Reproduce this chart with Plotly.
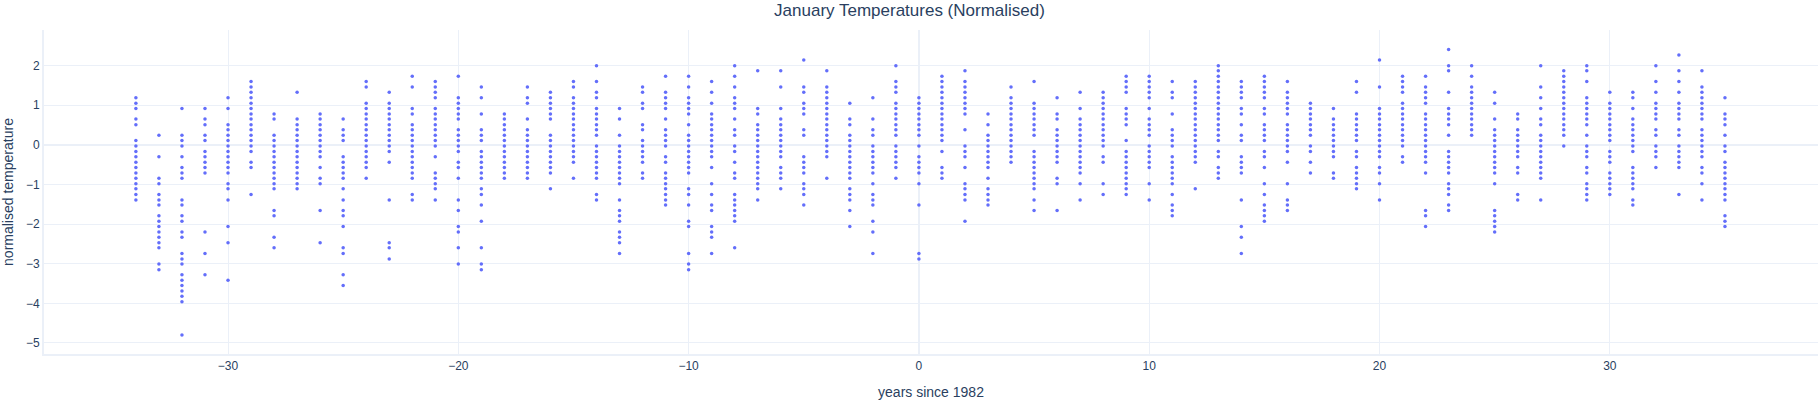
import plotly.graph_objects as go

# years since 1982, one column of January readings per year
years = list(range(-34, 36))

# normalised daily January temperatures (one list per year)
temps_by_year = [
    [1.19, 1.05, 0.92, 0.65, 0.51, 0.11, -0.03, -0.17, -0.30, -0.44, -0.57, -0.71, -0.84, -0.98, -1.11, -1.25, -1.39],  # -34
    [0.24, -0.30, -0.84, -0.98, -1.25, -1.39, -1.52, -1.79, -1.93, -2.06, -2.20, -2.33, -2.47, -2.60, -3.01, -3.15],  # -33
    [0.92, 0.24, 0.11, -0.03, -0.30, -0.57, -0.71, -0.84, -1.39, -1.52, -1.79, -1.93, -2.20, -2.33, -2.74, -2.88,
     -3.01, -3.28, -3.42, -3.55, -3.69, -3.82, -3.96, -4.80],  # -32
    [0.92, 0.65, 0.51, 0.24, 0.11, -0.17, -0.30, -0.44, -0.57, -0.71, -2.20, -2.74, -3.28],  # -31
    [1.19, 0.92, 0.51, 0.38, 0.24, 0.11, -0.03, -0.17, -0.30, -0.44, -0.57, -0.71, -0.98, -1.11, -1.39, -2.06, -2.47, -3.42],  # -30
    [1.60, 1.46, 1.33, 1.19, 1.05, 0.92, 0.78, 0.65, 0.51, 0.38, 0.24, 0.11, -0.03, -0.17, -0.44, -0.57, -1.25],  # -29
    [0.78, 0.65, 0.24, 0.11, -0.03, -0.17, -0.30, -0.44, -0.57, -0.71, -0.84, -0.98, -1.11, -1.66, -1.79, -2.33, -2.60],  # -28
    [1.33, 0.65, 0.51, 0.38, 0.24, 0.11, -0.03, -0.17, -0.30, -0.44, -0.57, -0.71, -0.84, -0.98, -1.11],  # -27
    [0.78, 0.65, 0.51, 0.38, 0.24, 0.11, -0.03, -0.17, -0.30, -0.57, -0.84, -0.98, -1.66, -2.47],  # -26
    [0.65, 0.38, 0.24, 0.11, -0.30, -0.44, -0.57, -0.71, -0.84, -1.11, -1.39, -1.66, -1.79, -2.06, -2.60, -2.74, -3.28, -3.55],  # -25
    [1.60, 1.46, 1.05, 0.92, 0.78, 0.65, 0.51, 0.38, 0.24, 0.11, -0.03, -0.17, -0.30, -0.44, -0.57, -0.84],  # -24
    [1.33, 1.05, 0.92, 0.78, 0.65, 0.51, 0.38, 0.24, 0.11, -0.03, -0.17, -0.44, -1.39, -2.47, -2.60, -2.88],  # -23
    [1.73, 1.46, 0.92, 0.78, 0.51, 0.38, 0.24, 0.11, -0.03, -0.17, -0.30, -0.44, -0.57, -0.71, -0.84, -1.25, -1.39],  # -22
    [1.60, 1.46, 1.33, 1.19, 0.92, 0.78, 0.65, 0.51, 0.38, 0.24, 0.11, -0.03, -0.30, -0.71, -0.84, -0.98, -1.11, -1.39],  # -21
    [1.73, 1.19, 1.05, 0.92, 0.78, 0.65, 0.38, 0.24, 0.11, -0.03, -0.17, -0.44, -0.57, -0.84, -1.39, -1.66, -2.06, -2.20,
     -2.60, -3.01],  # -20
    [1.46, 1.19, 0.78, 0.38, 0.24, 0.11, -0.17, -0.30, -0.44, -0.57, -0.71, -0.84, -1.11, -1.25, -1.52, -1.93, -2.60,
     -3.01, -3.15],  # -19
    [0.78, 0.65, 0.51, 0.38, 0.24, 0.11, -0.03, -0.17, -0.30, -0.44, -0.57, -0.71, -0.84],  # -18
    [1.46, 1.19, 1.05, 0.65, 0.38, 0.24, 0.11, -0.03, -0.17, -0.30, -0.44, -0.57, -0.71, -0.84],  # -17
    [1.33, 1.19, 1.05, 0.92, 0.78, 0.65, 0.24, 0.11, -0.03, -0.17, -0.30, -0.44, -0.57, -0.71, -1.11],  # -16
    [1.60, 1.46, 1.19, 1.05, 0.92, 0.78, 0.65, 0.51, 0.38, 0.24, 0.11, -0.03, -0.17, -0.30, -0.44, -0.84],  # -15
    [2.00, 1.60, 1.33, 1.19, 0.92, 0.78, 0.65, 0.51, 0.38, 0.24, -0.03, -0.17, -0.30, -0.44, -0.57, -0.71, -0.84,
     -1.25, -1.39],  # -14
    [0.92, 0.65, 0.24, -0.03, -0.17, -0.30, -0.44, -0.57, -0.71, -0.84, -0.98, -1.39, -1.66, -1.79, -1.93, -2.20,
     -2.33, -2.47, -2.74],  # -13
    [1.46, 1.33, 1.05, 0.92, 0.51, 0.38, 0.11, -0.03, -0.17, -0.30, -0.44, -0.71, -0.84],  # -12
    [1.73, 1.33, 1.19, 1.05, 0.92, 0.65, 0.38, 0.24, 0.11, -0.03, -0.30, -0.44, -0.71, -0.84, -0.98, -1.11, -1.25,
     -1.39, -1.52],  # -11
    [1.73, 1.46, 1.19, 1.05, 0.92, 0.78, 0.51, 0.24, 0.11, -0.03, -0.17, -0.30, -0.44, -0.57, -0.71, -1.11, -1.25,
     -1.52, -1.93, -2.06, -2.74, -3.01, -3.15],  # -10
    [1.60, 1.33, 1.05, 0.78, 0.65, 0.51, 0.38, 0.24, 0.11, -0.03, -0.17, -0.30, -0.57, -0.98, -1.25, -1.52, -1.66,
     -2.06, -2.20, -2.33, -2.74],  # -9
    [2.00, 1.73, 1.46, 1.19, 1.05, 0.92, 0.65, 0.38, 0.24, -0.03, -0.17, -0.44, -0.71, -0.84, -1.25, -1.39, -1.52,
     -1.66, -1.79, -1.93, -2.60],  # -8
    [1.87, 0.92, 0.78, 0.51, 0.38, 0.24, 0.11, -0.03, -0.17, -0.30, -0.44, -0.57, -0.71, -0.84, -0.98, -1.11, -1.39],  # -7
    [1.87, 1.46, 0.92, 0.65, 0.51, 0.38, 0.24, 0.11, -0.03, -0.17, -0.30, -0.57, -0.71, -0.84, -1.11],  # -6
    [2.14, 1.46, 1.33, 1.05, 0.92, 0.78, 0.38, 0.24, -0.30, -0.44, -0.57, -0.71, -0.98, -1.11, -1.25, -1.52],  # -5
    [1.87, 1.46, 1.33, 1.19, 1.05, 0.92, 0.78, 0.65, 0.51, 0.38, 0.24, 0.11, -0.03, -0.17, -0.30, -0.84],  # -4
    [1.05, 0.65, 0.51, 0.24, 0.11, -0.03, -0.17, -0.30, -0.44, -0.57, -0.71, -0.84, -1.11, -1.25, -1.39, -1.66, -2.06],  # -3
    [1.19, 0.65, 0.38, 0.24, -0.03, -0.17, -0.30, -0.44, -0.57, -0.71, -0.98, -1.25, -1.39, -1.52, -1.93, -2.20, -2.74],  # -2
    [2.00, 1.60, 1.46, 1.33, 1.05, 0.92, 0.78, 0.65, 0.51, 0.38, 0.24, -0.03, -0.17, -0.30, -0.44, -0.57, -0.84],  # -1
    [1.19, 1.05, 0.92, 0.78, 0.65, 0.51, 0.38, 0.24, -0.03, -0.30, -0.44, -0.57, -0.71, -0.98, -1.52, -2.74, -2.88],  # 0
    [1.73, 1.60, 1.46, 1.33, 1.19, 1.05, 0.92, 0.78, 0.65, 0.51, 0.38, 0.24, 0.11, -0.17, -0.57, -0.71, -0.84],  # 1
    [1.87, 1.60, 1.46, 1.33, 1.19, 1.05, 0.92, 0.78, 0.38, -0.03, -0.17, -0.30, -0.57, -0.98, -1.11, -1.25, -1.39, -1.93],  # 2
    [0.78, 0.51, 0.24, 0.11, -0.03, -0.17, -0.30, -0.44, -0.57, -0.84, -1.11, -1.25, -1.39, -1.52],  # 3
    [1.46, 1.19, 1.05, 0.92, 0.78, 0.65, 0.51, 0.38, 0.24, 0.11, -0.03, -0.17, -0.30, -0.44],  # 4
    [1.60, 1.05, 0.92, 0.78, 0.65, 0.51, 0.38, 0.24, -0.17, -0.30, -0.44, -0.57, -0.71, -0.84, -0.98, -1.11, -1.39, -1.66],  # 5
    [1.19, 0.78, 0.65, 0.38, 0.24, 0.11, -0.03, -0.17, -0.30, -0.44, -0.84, -0.98, -1.66],  # 6
    [1.33, 0.92, 0.65, 0.51, 0.38, 0.24, 0.11, -0.03, -0.17, -0.30, -0.44, -0.57, -0.71, -0.98, -1.39],  # 7
    [1.33, 1.19, 1.05, 0.92, 0.78, 0.65, 0.51, 0.38, 0.24, 0.11, -0.03, -0.30, -0.44, -0.98, -1.25],  # 8
    [1.73, 1.60, 1.46, 1.33, 0.92, 0.78, 0.65, 0.51, 0.11, -0.17, -0.30, -0.44, -0.57, -0.71, -0.84, -0.98, -1.11, -1.25],  # 9
    [1.73, 1.60, 1.46, 1.33, 1.19, 0.92, 0.65, 0.51, 0.38, 0.24, -0.03, -0.17, -0.30, -0.44, -0.57, -0.98, -1.39],  # 10
    [1.60, 1.33, 1.19, 0.78, 0.38, 0.24, 0.11, -0.03, -0.30, -0.44, -0.57, -0.71, -0.84, -0.98, -1.25, -1.52, -1.66, -1.79],  # 11
    [1.60, 1.46, 1.33, 1.19, 1.05, 0.92, 0.78, 0.65, 0.51, 0.38, 0.24, 0.11, -0.03, -0.17, -0.30, -0.44, -1.11],  # 12
    [2.00, 1.87, 1.73, 1.60, 1.46, 1.33, 1.19, 1.05, 0.92, 0.78, 0.65, 0.51, 0.38, 0.24, 0.11, -0.17, -0.30, -0.57,
     -0.71, -0.84],  # 13
    [1.60, 1.46, 1.33, 1.19, 0.92, 0.78, 0.51, 0.24, 0.11, -0.30, -0.44, -0.57, -0.71, -1.39, -2.06, -2.33, -2.74],  # 14
    [1.73, 1.60, 1.46, 1.33, 1.19, 0.92, 0.78, 0.51, 0.38, 0.24, 0.11, -0.17, -0.30, -0.57, -0.98, -1.25, -1.52,
     -1.66, -1.79, -1.93],  # 15
    [1.60, 1.33, 1.19, 1.05, 0.92, 0.78, 0.51, 0.38, 0.24, 0.11, -0.03, -0.17, -0.44, -0.98, -1.39, -1.52, -1.66],  # 16
    [1.05, 0.92, 0.78, 0.65, 0.51, 0.38, 0.24, -0.03, -0.17, -0.44, -0.71],  # 17
    [0.92, 0.65, 0.51, 0.38, 0.24, 0.11, -0.03, -0.17, -0.30, -0.71, -0.84],  # 18
    [1.60, 1.33, 0.78, 0.65, 0.51, 0.38, 0.24, 0.11, -0.17, -0.30, -0.57, -0.71, -0.84, -0.98, -1.11],  # 19
    [2.14, 1.46, 0.92, 0.78, 0.65, 0.51, 0.38, 0.24, 0.11, -0.03, -0.17, -0.30, -0.57, -0.71, -0.98, -1.39],  # 20
    [1.73, 1.60, 1.46, 1.33, 1.05, 0.92, 0.78, 0.65, 0.51, 0.38, 0.24, 0.11, -0.03, -0.30, -0.44],  # 21
    [1.73, 1.46, 1.33, 1.19, 1.05, 0.78, 0.65, 0.51, 0.38, 0.24, 0.11, -0.03, -0.17, -0.30, -0.44, -0.71, -1.66,
     -1.79, -2.06],  # 22
    [2.41, 2.00, 1.87, 1.33, 0.92, 0.78, 0.65, 0.51, 0.24, -0.17, -0.30, -0.44, -0.57, -0.71, -0.98, -1.11, -1.25,
     -1.52, -1.66],  # 23
    [2.00, 1.73, 1.46, 1.33, 1.19, 1.05, 0.92, 0.78, 0.65, 0.51, 0.38, 0.24],  # 24
    [1.33, 1.05, 0.65, 0.38, 0.24, 0.11, -0.03, -0.17, -0.30, -0.44, -0.57, -0.71, -0.98, -1.66, -1.79, -1.93, -2.06, -2.20],  # 25
    [0.78, 0.65, 0.38, 0.24, 0.11, -0.03, -0.17, -0.30, -0.57, -0.71, -1.25, -1.39],  # 26
    [2.00, 1.46, 1.19, 0.92, 0.65, 0.51, 0.24, 0.11, -0.03, -0.17, -0.30, -0.44, -0.57, -0.71, -0.84, -1.39],  # 27
    [1.87, 1.73, 1.60, 1.46, 1.33, 1.19, 1.05, 0.92, 0.78, 0.65, 0.51, 0.38, 0.24, -0.03],  # 28
    [2.00, 1.87, 1.60, 1.19, 1.05, 0.92, 0.78, 0.65, 0.51, 0.24, -0.03, -0.17, -0.30, -0.57, -0.71, -0.98, -1.11,
     -1.25, -1.39],  # 29
    [1.33, 1.05, 0.92, 0.78, 0.65, 0.51, 0.38, 0.24, 0.11, -0.17, -0.30, -0.44, -0.71, -0.84, -0.98, -1.11, -1.25],  # 30
    [1.33, 1.19, 0.92, 0.65, 0.51, 0.38, 0.24, 0.11, -0.03, -0.17, -0.57, -0.71, -0.84, -0.98, -1.11, -1.39, -1.52],  # 31
    [2.00, 1.60, 1.33, 1.05, 0.92, 0.78, 0.65, 0.38, 0.24, -0.03, -0.17, -0.30, -0.57],  # 32
    [2.27, 1.87, 1.60, 1.33, 1.05, 0.92, 0.78, 0.65, 0.38, 0.24, -0.03, -0.17, -0.30, -0.44, -0.57, -1.25],  # 33
    [1.87, 1.46, 1.33, 1.19, 1.05, 0.92, 0.78, 0.65, 0.38, 0.24, 0.11, -0.03, -0.17, -0.30, -0.57, -0.71, -0.98, -1.39],  # 34
    [1.19, 0.78, 0.65, 0.51, 0.24, -0.03, -0.17, -0.44, -0.57, -0.71, -0.84, -0.98, -1.11, -1.25, -1.39, -1.79,
     -1.93, -2.06],  # 35
]

x = []
y = []
for yr, temps in zip(years, temps_by_year):
    for t in temps:
        x.append(yr)
        y.append(t)

fig = go.Figure(data=[go.Scatter(x=x, y=y, mode="markers",
                                 marker=dict(color="#636efa", size=3.5))])

fig.update_layout(template="plotly_white",
                  width=1819, height=400,
                  margin=dict(l=44, r=1, t=30, b=46),
                  font=dict(family="Liberation Sans, Arial, sans-serif", color="#2a3f5f"),
                  title=dict(text="January Temperatures (Normalised)", x=0.5, xanchor="center",
                             y=0.975, yanchor="middle", font_size=17),
                  showlegend=False)

fig.update_xaxes(title_text="years since 1982", range=[-37.99, 39.04], dtick=10,
                 showline=True, linewidth=2, linecolor="#EBF0F8", automargin=False)
fig.update_yaxes(title_text="normalised temperature", range=[-5.28, 2.90], dtick=1,
                 showline=True, linewidth=2, linecolor="#EBF0F8", automargin=False)

# the page body has a default 8px margin; drop it so the figure sits at the corner
fig.write_html("out.html", config={"displayModeBar": False},
               post_script="document.body.style.margin = '0px';")
